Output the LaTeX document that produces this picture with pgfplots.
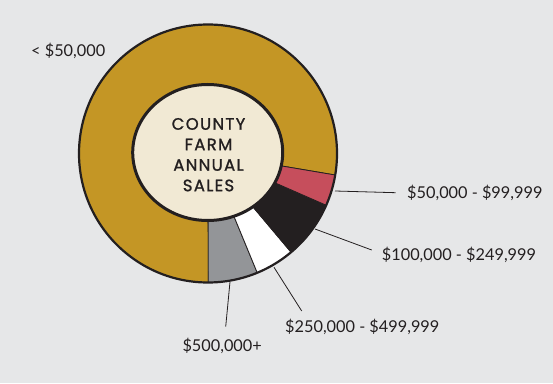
\documentclass[border=0pt]{standalone}
\usepackage{fontspec}
\setmainfont{Lato}
\newfontfamily\titlefont{Poppins}[FakeBold=1.2, LetterSpace=8]
\usepackage{pgfplots}
\usepackage{pgfplotstable}
\pgfplotsset{compat=1.18}
\definecolor{bg}{HTML}{E6E7E8}
\definecolor{dark}{HTML}{231F20}
\definecolor{slice0}{HTML}{C49625}
\definecolor{slice1}{HTML}{939598}
\definecolor{slice2}{HTML}{FFFFFF}
\definecolor{slice3}{HTML}{231F20}
\definecolor{slice4}{HTML}{C64E5C}
\definecolor{cream}{HTML}{F1E9D4}
% share of farms (percent), in drawing order counter-clockwise
\pgfplotstableread{
pct
77.7
6.2
4.9
7.3
3.9
}\slices
\begin{document}
\begin{tikzpicture}
\begin{axis}[
  scale only axis, width=553pt, height=383pt,
  xmin=0, xmax=553, ymin=0, ymax=383,
  hide axis, clip=false]
\fill[bg] (axis cs:0,0) rectangle (axis cs:553,383);
\pgfmathsetmacro\acc{-9.6}
\pgfplotsforeachungrouped \i in {0,...,4}{%
  \pgfplotstablegetelem{\i}{pct}\of\slices
  \pgfmathsetmacro\sa{\acc}%
  \pgfmathsetmacro\sb{\acc+3.6*\pgfplotsretval}%
  \edef\temp{\noexpand\addplot[fill=slice\i, draw=dark, line width=0.8pt, line join=round, domain=\sa:\sb, samples=80, variable=\noexpand\t] ({208+129*cos(\noexpand\t)},{229.5+129*sin(\noexpand\t)}) -- (axis cs:208,229.5) -- cycle;}%
  \temp
  \global\let\acc\sb
}
\draw[dark, line width=2.2pt] (axis cs:208,229.5) circle[radius=129];
\filldraw[fill=cream, draw=dark, line width=3pt] (axis cs:207.7,230.5) ellipse[x radius=75, y radius=68];
\node[align=center, text=dark, font=\titlefont\fontsize{16.5}{20.5}\selectfont] at (axis cs:208.5,228.3) {COUNTY\\FARM\\ANNUAL\\SALES};
% leader lines
\draw[dark, line width=0.8pt] (axis cs:335,192) -- (axis cs:395.7,190.3);
\draw[dark, line width=0.8pt] (axis cs:315,154) -- (axis cs:371.7,133);
\draw[dark, line width=0.8pt] (axis cs:274,115.7) -- (axis cs:301.7,72);
\draw[dark, line width=0.8pt] (axis cs:230,101.3) -- (axis cs:225.7,56.3);
% labels
\begin{scope}[every node/.style={text=dark, inner sep=0pt, font=\fontsize{16.3}{19}\selectfont}]
\node[anchor=base west] at (axis cs:31,326.3) {< \$50,000};
\node[anchor=base west] at (axis cs:407,185) {\$50,000 - \$99,999};
\node[anchor=base west] at (axis cs:381.7,123) {\$100,000 - \$249,999};
\node[anchor=base west] at (axis cs:285,50.3) {\$250,000 - \$499,999};
\node[anchor=base west] at (axis cs:182.3,32) {\$500,000+};
\end{scope}
\end{axis}
\end{tikzpicture}
\end{document}
